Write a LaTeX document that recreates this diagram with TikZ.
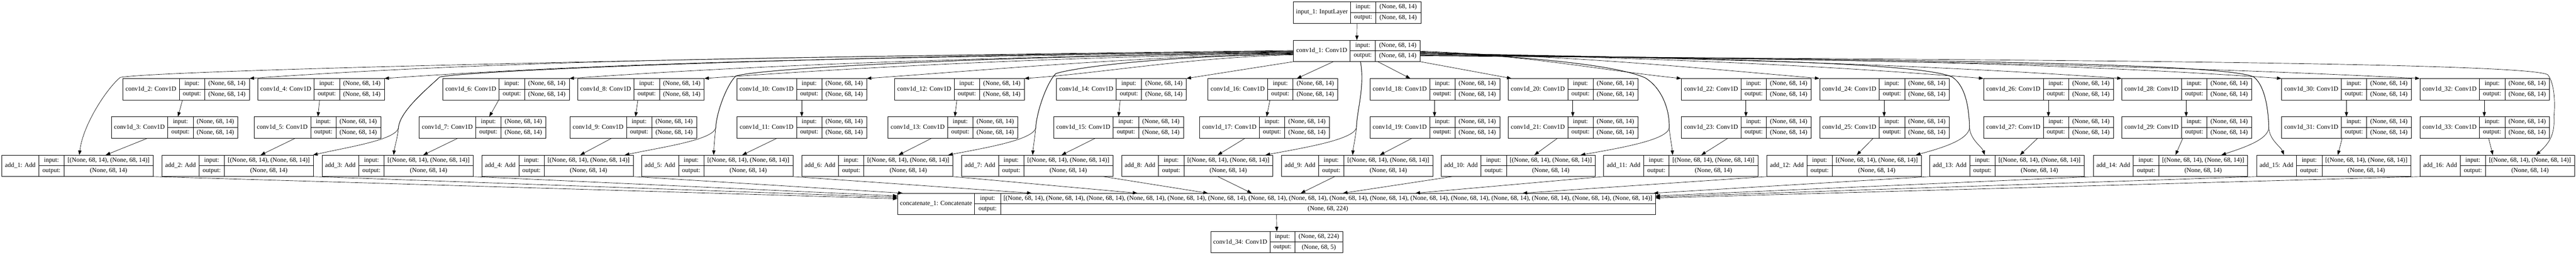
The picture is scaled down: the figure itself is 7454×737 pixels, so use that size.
\documentclass[tikz,border=0pt]{standalone}
\usepackage{fontspec}
\setmainfont{Liberation Serif}
\usetikzlibrary{arrows.meta}

\newcommand{\shpa}{(None, 68, 14)}
% name, left, top, label width, io width, value width, label, input, output
\newcommand{\kerasbox}[9]{%
  \node[main node, minimum width={(#4+#5+#6)*1pt}] (#1) at (#2,#3) {};
  \draw[cell line] (#2+#4,#3) -- ++(0,61.5) (#2+#4+#5,#3) -- ++(0,61.5)
    (#2+#4,#3+30.75) -- (#2+#4+#5+#6,#3+30.75);
  \node (#1-l) at (#2+#4/2,#3+30.75) {#7};
  \node (#1-i) at (#2+#4+#5/2,#3+15.6) {input:};
  \node (#1-o) at (#2+#4+#5/2,#3+46.2) {output:};
  \node (#1-x) at (#2+#4+#5+#6/2,#3+15.6) {#8};
  \node (#1-y) at (#2+#4+#5+#6/2,#3+46.2) {#9};
}

\begin{document}
\begin{tikzpicture}[x=1pt, y=-1pt, font=\fontsize{18.5}{22}\selectfont]

  \tikzset{main node/.style={rectangle, draw, line width=1pt, inner sep=0pt,
      minimum height=61.5pt, anchor=north west}, }
  \tikzset{cell line/.style={line width=1pt}, }
  \tikzset{linea/.style={line width=1pt, -{Triangle[length=13pt,width=9.5pt]}}, }

  \useasboundingbox (0,0) rectangle (7454,737);
%
  \kerasbox{in1}{3741.5}{5}{167}{72}{130.5}{input\_1: InputLayer}{\shpa}{\shpa}
  \kerasbox{c1}{3742.5}{116}{164}{73.5}{129}{conv1d\_1: Conv1D}{\shpa}{\shpa}
  \foreach \ev/\od/\xe/\xo/\w in {2/3/354.6/321.4/164, 4/5/744.9/734.7/164,
      6/7/1280.3/1212.4/164, 8/9/1670.6/1648.6/164, 10/11/2131.7/2131.7/173,
      12/13/2588/2568.9/173, 14/15/3056.8/3048.2/173, 16/17/3494.9/3471/173,
      18/19/3963.7/3963.7/173, 20/21/4363.5/4363.5/173, 22/23/4864.8/4864.8/173,
      24/25/5264.7/5264.7/173, 26/27/5739.3/5739.3/173, 28/29/6139.3/6139.3/173,
      30/31/6601.6/6601.6/173, 32/33/7001.6/7001.6/173}{
    \kerasbox{c\ev}{\xe}{227}{\w}{73.5}{129}{conv1d\_\ev: Conv1D}{\shpa}{\shpa}
    \kerasbox{c\od}{\xo}{337.5}{\w}{73.5}{129}{conv1d\_\od: Conv1D}{\shpa}{\shpa}
  }
  \foreach \k/\x/\w in {1/5.1/107, 2/468.8/107, 3/931.1/107, 4/1394.1/107,
      5/1856.2/107, 6/2319.2/107, 7/2782.2/107, 8/3245.2/107, 9/3708.3/107,
      10/4169.3/116, 11/4640/116, 12/5112.6/116, 13/5583.5/116, 14/6057/116,
      15/6529.3/116, 16/7002.8/116}{
    \kerasbox{add\k}{\x}{448.5}{\w}{73.5}{257}{add\_\k: Add}{[\shpa, \shpa]}{\shpa}
  }
  \kerasbox{cat}{2597}{559}{223}{75.4}{1894}{concatenate\_1: Concatenate}%
    {[\shpa, \shpa, \shpa, \shpa, \shpa, \shpa, \shpa, \shpa, \shpa, \shpa, \shpa, \shpa, \shpa, \shpa, \shpa, \shpa]}{(None, 68, 224)}
  \kerasbox{c34}{3502.6}{669.5}{172}{72.7}{138}{conv1d\_34: Conv1D}{(None, 68, 224)}{(None, 68, 5)}
%
  \draw[linea] (in1.south) -- (c1.north);
  \draw[linea] (cat.south) -- (c34.north);
%
  \foreach \t/\y/\ax/\ay/\bx/\by in {2/147.5/2534/165/1627/164,
      4/150/2690/166/1900/172, 6/151.5/2904/165/2276/183, 8/154/3060/166/2549/191,
      10/155.5/3248/166/2878/201, 12/158.5/3430/167/3197/211}
    \draw[linea] (c1.west |- 0,\y) .. controls (\ax,\ay) and (\bx,\by) .. (c\t.north east);
  \foreach \t/\y/\ax/\ay/\bx/\by in {22/148/4411/158/4638/204,
      24/151/4571/163/4918/197, 26/153/4761/167/5250/187, 28/156/4921/168/5530/185,
      30/158/5106/170/5853/175, 32/160/5266/171/6133/184}
    \draw[linea] (c1.east |- 0,\y) .. controls (\ax,\ay) and (\bx,\by) .. (c\t.north west);
  \draw[linea] (c1.south west) -- (c14.north east);
  \draw[linea] (c1.south -| 3858,0) -- (c16.north -| 3752.9,0);
  \draw[linea] (c1.south -| 3987,0) -- (c18.north -| 4080.7,0);
  \draw[linea] (c1.south east) -- (c20.north -| 4373.5,0);
%
  \foreach \ev/\od/\sx/\tx in {2/3/528/515, 4/5/924.7/920, 6/7/1443/1416,
      8/9/1845.7/1839, 10/11/2320/2320, 12/13/2768.8/2763, 14/15/3241.4/3236.6,
      16/17/3674.8/3665, 18/19/4151/4151, 20/21/4551/4551, 22/23/5052/5052,
      24/25/5452/5452, 26/27/5927.4/5927.4, 28/29/6326/6326,
      30/31/6789.7/6789.7, 32/33/7188.5/7188.5}
    \draw[linea] (c\ev.south -| \sx,0) -- (c\od.north -| \tx,0);
  \foreach \od/\k/\sx/\tx in {3/1/427/306, 5/2/854.6/754.5, 7/3/1325/1224.8,
      9/4/1770/1679, 11/5/2248.5/2148, 13/6/2696/2600.4, 15/7/3169.6/3072,
      17/8/3603/3523.6, 19/9/4086/3993, 21/10/4507/4440, 23/11/5000/4923,
      25/12/5420.6/5372.8, 27/13/5896.3/5845.2, 29/14/6316.2/6295,
      31/15/6777.3/6764.8, 33/16/7201/7213.4}
    \draw[linea] (c\od.south -| \sx,0) -- (add\k.north -| \tx,0);
%
  \draw[linea] (c1.west |- 0,146) .. controls (1875,168) and (450,205) .. (348,224)
    .. controls (310,255) and (240,360) .. (add1.north -| 229.6,0);
  \draw[linea] (c1.west |- 0,149) .. controls (2384,160) and (1342,205) .. (1272,223)
    .. controls (1247,248) and (1156,320) .. (1153,370)
    .. controls (1145,405) and (1010,425) .. (add2.north -| 906,0);
  \draw[linea] (c1.west |- 0,149) .. controls (2384,160) and (1342,205) .. (1272,223)
    .. controls (1247,248) and (1156,320) .. (1153,370)
    .. controls (1150,400) and (1142,425) .. (add3.north -| 1139,0);
  \draw[linea] (c1.west |- 0,153) .. controls (2855,162) and (2199,198) .. (2129,220)
    .. controls (2104,245) and (2074,320) .. (2071,370)
    .. controls (2063,405) and (1920,425) .. (add4.north -| 1808,0);
  \draw[linea] (c1.west |- 0,153) .. controls (2855,162) and (2199,198) .. (2129,220)
    .. controls (2104,245) and (2074,320) .. (2071,370)
    .. controls (2068,400) and (2066,425) .. (add5.north -| 2065,0);
  \draw[linea] (c1.west |- 0,157) .. controls (3364,162) and (3110,195) .. (3055,213)
    .. controls (3030,238) and (3000,320) .. (2997,370)
    .. controls (2990,405) and (2850,428) .. (add6.north -| 2744,0);
  \draw[linea] (c1.west |- 0,157) .. controls (3364,162) and (3110,195) .. (3055,213)
    .. controls (3030,238) and (3000,320) .. (2997,370)
    .. controls (2994,400) and (2990,425) .. (add7.north -| 2988,0);
  \draw[linea] (c1.south -| 3936.7,0) .. controls (3950,250) and (3926,320) .. (3925,370)
    .. controls (3915,405) and (3770,428) .. (add8.north -| 3662,0);
  \draw[linea] (c1.south -| 3936.7,0) .. controls (3950,250) and (3926,320) .. (3925,370)
    .. controls (3922,400) and (3916,425) .. (add9.north -| 3914,0);
  \draw[linea] (c1.east |- 0,150) .. controls (4450,165) and (4680,190) .. (4760,225)
    .. controls (4810,255) and (4832,320) .. (4830,370)
    .. controls (4825,405) and (4690,428) .. (add10.north -| 4574,0);
  \draw[linea] (c1.east |- 0,150) .. controls (4450,165) and (4680,190) .. (4760,225)
    .. controls (4810,255) and (4832,320) .. (4830,370)
    .. controls (4833,400) and (4838,425) .. (add11.north -| 4840,0);
  \draw[linea] (c1.east |- 0,154) .. controls (4900,168) and (5560,180) .. (5649,223)
    .. controls (5690,250) and (5698,320) .. (5699,370)
    .. controls (5695,405) and (5620,428) .. (add12.north -| 5544,0);
  \draw[linea] (c1.east |- 0,154) .. controls (4900,168) and (5560,180) .. (5649,223)
    .. controls (5690,250) and (5698,320) .. (5699,370)
    .. controls (5702,405) and (5735,425) .. (add13.north -| 5743,0);
  \draw[linea] (c1.east |- 0,159) .. controls (5400,172) and (6440,180) .. (6522,223)
    .. controls (6555,250) and (6564,320) .. (6565,370)
    .. controls (6562,405) and (6490,428) .. (add14.north -| 6428,0);
  \draw[linea] (c1.east |- 0,159) .. controls (5400,172) and (6440,180) .. (6522,223)
    .. controls (6555,250) and (6564,320) .. (6565,370)
    .. controls (6567,405) and (6600,425) .. (add15.north -| 6609,0);
  \draw[linea] (c1.east |- 0,162) .. controls (5600,172) and (7300,178) .. (7372,216)
    .. controls (7392,240) and (7394,300) .. (7390,337)
    .. controls (7393,385) and (7380,412) .. (add16.north -| 7338,0);
%
  \foreach \k/\y in {1/575, 2/571, 3/567}
    \draw[linea] (add\k.south east) -- (cat.west |- 0,\y);
  \draw[linea] (add4.south east) -- (cat.north -| 2612,0);
  \foreach \k/\sx/\tx in {5/2293.7/2985, 6/2756.7/3291, 7/3193/3495, 8/3524/3622,
      9/3862/3764, 10/4202/3886, 11/4640/4096, 12/5112.6/4406, 13/5583.5/4785}
    \draw[linea] (add\k.south -| \sx,0) -- (cat.north -| \tx,0);
  \foreach \k/\y in {14/567, 15/570, 16/573}
    \draw[linea] (add\k.south west) -- (cat.east |- 0,\y);
%
\end{tikzpicture}
\end{document}
